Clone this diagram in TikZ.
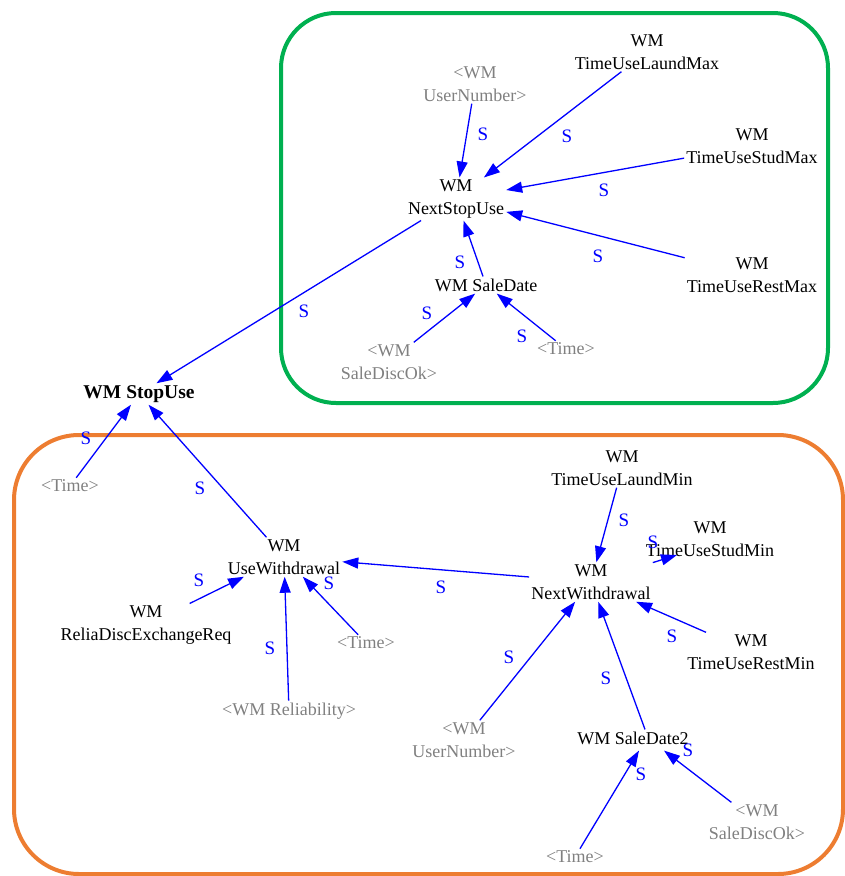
\documentclass[tikz,border=0pt]{standalone}
\usepackage{fontspec}
\setmainfont{Liberation Serif}
\usetikzlibrary{arrows.meta}
\definecolor{vblue}{RGB}{0,0,255}
\definecolor{vgray}{RGB}{128,128,128}
\definecolor{vgreen}{RGB}{0,176,80}
\definecolor{vorange}{RGB}{237,125,49}
\begin{document}
\begin{tikzpicture}[x=1pt,y=-1pt,
  var/.style={font=\fontsize{18}{23}\selectfont, align=center, inner sep=2pt, text=black},
  shad/.style={var, text=vgray},
  arr/.style={draw=vblue, line width=1.3pt, -{Triangle[length=16pt,width=11pt]}},
  slab/.style={text=vblue, font=\fontsize{19}{21}\selectfont, inner sep=0pt},
  grp/.style={line width=4pt}]
\useasboundingbox (0,0) rectangle (845,876);
\draw[grp, vgreen, rounded corners=55pt] (281,13) rectangle (828,403);
\draw[grp, vorange, rounded corners=65pt] (14,435) rectangle (843,874);

% top group
\node[shad] (un1) at (475,84) {<WM\\UserNumber>};
\node[var] (lmax) at (647,52) {WM\\TimeUseLaundMax};
\node[var] (smax) at (752,146) {WM\\TimeUseStudMax};
\node[var] (nsu) at (456,199) {WM\\NextStopUse};
\node[var] (rmax) at (752,275) {WM\\TimeUseRestMax};
\node[var] (sd) at (486,285) {WM SaleDate};
\node[shad] (sdo1) at (389,362) {<WM\\SaleDiscOk>};
\node[shad] (t1) at (566,349) {<Time>};
\node[var, font=\bfseries\fontsize{19.5}{23}\selectfont] (su) at (139,394) {WM StopUse};

% bottom group
\node[shad] (t2) at (70,486) {<Time>};
\node[var] (uw) at (284,557) {WM\\UseWithdrawal};
\node[var] (rde) at (146,625) {WM\\ReliaDiscExchangeReq};
\node[shad] (t3) at (366,643) {<Time>};
\node[shad] (rel) at (289,711) {<WM Reliability>};
\node[var] (lmin) at (622,468) {WM\\TimeUseLaundMin};
\node[var] (smin) at (710,539) {WM\\TimeUseStudMin};
\node[var] (nw) at (591,582) {WM\\NextWithdrawal};
\node[var] (rmin) at (751,652) {WM\\TimeUseRestMin};
\node[shad] (un2) at (464,740) {<WM\\UserNumber>};
\node[var] (sd2) at (633,738) {WM SaleDate2};
\node[shad] (t4) at (575,857) {<Time>};
\node[shad] (sdo2) at (757,822) {<WM\\SaleDiscOk>};
\coordinate (c16) at (677,555);

% connectors
\draw[arr] (un1) -- (nsu) node[slab] at (483,134) {S};
\draw[arr] (lmax) -- (nsu) node[slab] at (567,136) {S};
\draw[arr] (smax) -- (nsu) node[slab] at (604,190) {S};
\draw[arr] (rmax) -- (nsu) node[slab] at (598,256) {S};
\draw[arr] (sd) -- (nsu) node[slab] at (460,262) {S};
\draw[arr] (sdo1) -- (sd) node[slab] at (427,313) {S};
\draw[arr] (t1) -- (sd) node[slab] at (522,336) {S};
\draw[arr] (nsu) -- (su) node[slab] at (304,311) {S};
\draw[arr] (t2) -- (su) node[slab] at (86,438) {S};
\draw[arr] (uw) -- (su) node[slab] at (200,488) {S};
\draw[arr] (nw) -- (uw) node[slab] at (441,587) {S};
\draw[arr] (rde) -- (uw) node[slab] at (199,580) {S};
\draw[arr] (t3) -- (uw) node[slab] at (329,583) {S};
\draw[arr] (rel) -- (uw) node[slab] at (270,648) {S};
\draw[arr] (lmin) -- (nw) node[slab] at (624,520) {S};
\draw[arr] (nw) -- (c16) node[slab] at (653,542) {S};
\draw[arr] (rmin) -- (nw) node[slab] at (672,636) {S};
\draw[arr] (un2) -- (nw) node[slab] at (509,657) {S};
\draw[arr] ([xshift=12pt]sd2.north) -- (nw) node[slab] at (606,678) {S};
\draw[arr] (t4) -- ([xshift=6pt,yshift=-4pt]sd2.south) node[slab] at (641,774) {S};
\draw[arr] (sdo2) -- ([xshift=31pt,yshift=-4pt]sd2.south) node[slab] at (688,750) {S};
\end{tikzpicture}
\end{document}
